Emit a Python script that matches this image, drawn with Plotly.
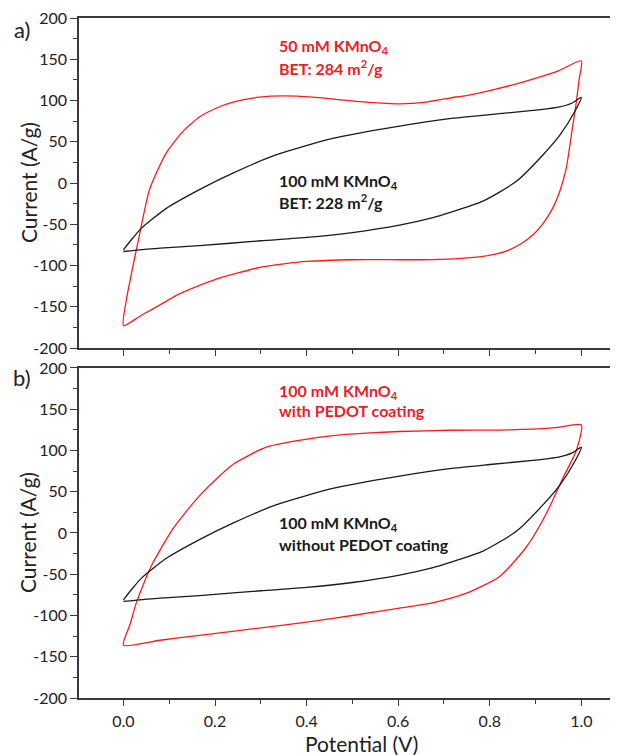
import plotly.graph_objects as go

# ---------------- data ----------------
# Panel a) 50 mM KMnO4 (red), anodic (forward) and cathodic (reverse) sweeps
a_red_fwd_x = [0.0, 0.006, 0.02, 0.035, 0.057, 0.093, 0.129, 0.166, 0.2, 0.239, 0.297, 0.35, 0.413, 0.47, 0.531, 0.603, 0.66, 0.712, 0.749, 0.8, 0.85, 0.894, 0.95, 1.0]
a_red_fwd_y = [-173, -143, -103, -63, -8, 36, 62, 80, 90, 98, 104, 105.5, 104, 101, 98, 96, 98, 103, 106, 112, 119, 126, 136, 148]
a_red_rev_x = [1.0, 0.995, 0.989, 0.98, 0.967, 0.953, 0.937, 0.915, 0.894, 0.87, 0.843, 0.815, 0.785, 0.72, 0.65, 0.603, 0.5, 0.4, 0.35, 0.3, 0.25, 0.2, 0.166, 0.12, 0.079, 0.04, 0.0]
a_red_rev_y = [148, 125, 98, 65, 18, -10, -31, -50, -63, -73, -81, -86, -89, -92, -93, -93, -93, -95, -98, -102, -109, -117, -124, -135, -148, -160, -173]

# 100 mM KMnO4 without PEDOT (black), same curve in both panels
blk_fwd_x = [0.0, 0.02, 0.039, 0.093, 0.166, 0.239, 0.333, 0.457, 0.603, 0.712, 0.8, 0.894, 0.95, 0.98, 1.0]
blk_fwd_y = [-81, -67, -55, -31, -8, 12, 34, 54, 69, 78, 83, 88, 92, 97, 104]
blk_rev_x = [1.0, 0.985, 0.953, 0.916, 0.858, 0.785, 0.712, 0.676, 0.603, 0.5, 0.4, 0.3, 0.166, 0.08, 0.0]
blk_rev_y = [104, 86, 58, 34, 2, -22, -36, -42, -51, -60, -66, -70, -76, -79, -83]

# Panel b) 100 mM KMnO4 with PEDOT coating (red)
b_red_fwd_x = [0.0, 0.015, 0.028, 0.06, 0.108, 0.166, 0.239, 0.312, 0.38, 0.457, 0.53, 0.603, 0.712, 0.821, 0.894, 0.95, 1.0]
b_red_fwd_y = [-136, -110, -85, -41, 5, 45, 83, 104, 112, 118, 121, 123, 124.5, 124.7, 126, 128, 131]
b_red_rev_x = [1.0, 0.989, 0.96, 0.923, 0.88, 0.821, 0.749, 0.68, 0.603, 0.5, 0.4, 0.3, 0.166, 0.08, 0.0]
b_red_rev_y = [131, 100, 67, 23, -17, -53, -73, -84, -91, -100, -108, -115, -124, -130, -136]

y_tickvals = [-200, -150, -100, -50, 0, 50, 100, 150, 200]
y_ticktext = ["-200", "-150", "-100", "-50", "0", "50", "100", "150", "200"]
x_tickvals = [0.0, 0.2, 0.4, 0.6, 0.8, 1.0]
x_ticktext = ["0.0", "0.2", "0.4", "0.6", "0.8", "1.0"]

# ---------------- figure ----------------
FONT = "Lato"
RED_LINE = "#ff1a1a"
RED_TEXT = "#ee1c25"
BLACK = "#1a1a1a"
AXC = "#3a3a3a"

fig = go.Figure()

def loop(fx, fy, rx, ry):
    return fx + rx[1:], fy + ry[1:]

LW = 1.3
x, y = loop(a_red_fwd_x, a_red_fwd_y, a_red_rev_x, a_red_rev_y)
fig.add_trace(go.Scatter(x=x, y=y, mode="lines", line=dict(color=RED_LINE, width=LW, shape="spline", smoothing=0.6),
                         xaxis="x", yaxis="y", showlegend=False))
x, y = loop(blk_fwd_x, blk_fwd_y, blk_rev_x, blk_rev_y)
fig.add_trace(go.Scatter(x=x, y=y, mode="lines", line=dict(color=BLACK, width=LW, shape="spline", smoothing=0.6),
                         xaxis="x", yaxis="y", showlegend=False))
x, y = loop(b_red_fwd_x, b_red_fwd_y, b_red_rev_x, b_red_rev_y)
fig.add_trace(go.Scatter(x=x, y=y, mode="lines", line=dict(color=RED_LINE, width=LW, shape="spline", smoothing=0.6),
                         xaxis="x2", yaxis="y2", showlegend=False))
x, y = loop(blk_fwd_x, blk_fwd_y, blk_rev_x, blk_rev_y)
fig.add_trace(go.Scatter(x=x, y=y, mode="lines", line=dict(color=BLACK, width=LW, shape="spline", smoothing=0.6),
                         xaxis="x2", yaxis="y2", showlegend=False))

XR = [-0.097, 1.08]

def xaxis(anchor, labels):
    return dict(range=XR, anchor=anchor, showline=True, linecolor=AXC, linewidth=1.5, mirror=True,
                showgrid=False, zeroline=False, ticks="outside", ticklen=6, tickwidth=1.3, tickcolor=AXC,
                tickvals=x_tickvals, ticktext=x_ticktext, showticklabels=labels, ticklabeloverflow="allow",
                minor=dict(dtick=0.1, tick0=0, ticks="outside", ticklen=4, tickwidth=1.2, tickcolor=AXC),
                tickfont=dict(family=FONT, size=16, color="#222"), ticklabelstandoff=2)

def yaxis(anchor, domain):
    return dict(range=[-200, 200], domain=domain, anchor=anchor, showline=True, linecolor=AXC, linewidth=1.5,
                mirror=False, showgrid=False, zeroline=False, ticks="outside", ticklen=7, tickwidth=1.3,
                tickcolor=AXC, tickvals=y_tickvals, ticktext=y_ticktext, ticklabeloverflow="allow",
                minor=dict(dtick=25, tick0=0, ticks="outside", ticklen=4, tickwidth=1.2, tickcolor=AXC),
                tickfont=dict(family=FONT, size=16, color="#222"))

# page body has an 8px margin: shift everything up/left by 8px
OFF = 8
W = 618 - OFF
H = 755 - OFF
MT = 16 - OFF
BOT = 698 - OFF   # bottom axis line (page y)
MB = H - BOT
PH = H - MT - MB
top_dom = [(698 - 347) / PH, 1.0]
bot_dom = [0.0, (698 - 367) / PH]

fig.update_layout(
    width=W, height=H,
    margin=dict(l=79 - OFF, r=0, t=MT, b=MB),
    paper_bgcolor="white", plot_bgcolor="white",
    font=dict(family=FONT, color="#222"),
    xaxis=xaxis("y", False),
    yaxis=yaxis("x", top_dom),
    xaxis2=xaxis("y2", True),
    yaxis2=yaxis("x2", bot_dom),
)

ann = []
# axis titles
for dom in (top_dom, bot_dom):
    ann.append(dict(text="Current (A/g)", xref="paper", yref="paper", x=0, y=(dom[0] + dom[1]) / 2,
                    xanchor="center", yanchor="middle", xshift=-51, textangle=-90, showarrow=False,
                    font=dict(family=FONT, size=21, color="#222")))
ann.append(dict(text="Potential (V)", xref="x2", yref="paper", x=0.52, y=0, xanchor="center",
                yanchor="middle", yshift=-45, showarrow=False, font=dict(family=FONT, size=21, color="#222")))
# panel labels
ann.append(dict(text="a)", xref="paper", yref="paper", x=0, y=top_dom[1], xanchor="center", yanchor="middle",
                xshift=-57, yshift=-11, showarrow=False, font=dict(family=FONT, size=22, color="#222")))
ann.append(dict(text="b)", xref="paper", yref="paper", x=0, y=bot_dom[1], xanchor="center", yanchor="middle",
                xshift=-57, yshift=-10, showarrow=False, font=dict(family=FONT, size=22, color="#222")))

def label(txt, xr, yr, yv, color):
    ann.append(dict(text="<b>" + txt + "</b>", xref=xr, yref=yr, x=0.335, y=yv, xanchor="left",
                    yanchor="middle", showarrow=False, font=dict(family=FONT, size=16, color=color)))

label("50 mM KMnO<sub>4</sub>", "x", "y", 165, RED_TEXT)
label("BET: 284 m<sup>2</sup>/g", "x", "y", 140.5, RED_TEXT)
label("100 mM KMnO<sub>4</sub>", "x", "y", 1.6, BLACK)
label("BET: 228 m<sup>2</sup>/g", "x", "y", -22.5, BLACK)
label("100 mM KMnO<sub>4</sub>", "x2", "y2", 171, RED_TEXT)
label("with PEDOT coating", "x2", "y2", 148, RED_TEXT)
label("100 mM KMnO<sub>4</sub>", "x2", "y2", 11, BLACK)
label("without PEDOT coating", "x2", "y2", -14, BLACK)

fig.update_layout(annotations=ann)
fig.write_html("out.html")
